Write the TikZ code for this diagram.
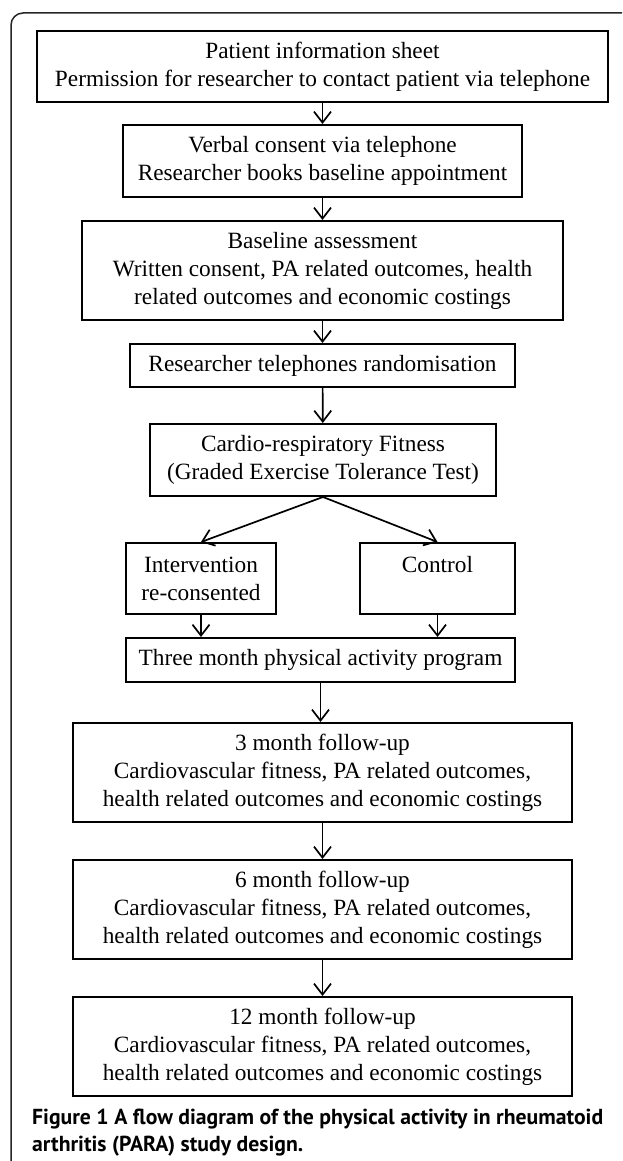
\documentclass[tikz,border=0pt]{standalone}
\usepackage{fontspec}
\setmainfont{Liberation Serif}
\newfontfamily\capfont{PT Sans}
\usetikzlibrary{arrows.meta}
\begin{document}
\begin{tikzpicture}[x=1pt,y=-1pt,
  box/.style={draw=black, line width=2pt, inner sep=0pt, align=center,
    font=\fontsize{23.3}{28}\selectfont},
  arr/.style={line width=1.7pt, -{Straight Barb[length=11pt,width=17pt,line width=1.7pt]}},
  frame/.style={draw=black!85, line width=1.5pt, rounded corners=12pt}]
\useasboundingbox (0,0) rectangle (622,1161);
\fill[white] (0,0) rectangle (622,1161);
\draw[frame] (622,13) -- (11,13) -- (11,1161);

\node[box, minimum width=571pt, minimum height=71pt] (b1) at (322.5,66.5)
  {Patient information sheet\\Permission for researcher to contact patient via telephone};
\node[box, minimum width=399pt, minimum height=72pt] (b2) at (322.5,161)
  {Verbal consent via telephone\\Researcher books baseline appointment};
\node[box, minimum width=481pt, minimum height=99pt] (b3) at (322.5,270.5)
  {Baseline assessment\\Written consent, PA related outcomes, health\\related outcomes and economic costings};
\node[box, minimum width=385pt, minimum height=43pt] (b4) at (322.5,365.5)
  {Researcher telephones randomisation};
\node[box, minimum width=346pt, minimum height=72pt] (b5) at (323,460)
  {Cardio-respiratory Fitness\\(Graded Exercise  Tolerance Test)};
\node[box, minimum width=150pt, minimum height=71pt] (int) at (201,578.5)
  {Intervention\\re-consented};
\node[box, minimum width=155pt, minimum height=71pt] (ctl) at (437.5,578.5)
  {Control\\\mbox{}};
\node[box, minimum width=389pt, minimum height=44pt] (b6) at (320.5,660)
  {Three month physical activity program};
\node[box, minimum width=499pt, minimum height=99pt] (f3) at (322.5,772.5)
  {3 month follow-up\\Cardiovascular fitness, PA related outcomes,\\health related outcomes and economic costings};
\node[box, minimum width=499pt, minimum height=99pt] (f6) at (322.5,909.5)
  {6 month follow-up\\Cardiovascular fitness, PA related outcomes,\\health related outcomes and economic costings};
\node[box, minimum width=499pt, minimum height=99pt] (f12) at (322.5,1046.5)
  {12 month follow-up\\Cardiovascular fitness, PA related outcomes,\\health related outcomes and economic costings};

\node[anchor=west, inner sep=0pt, align=left, font=\capfont\fontsize{21.7}{27}\selectfont\bfseries] (cap) at (32,1133)
  {Figure 1 A flow diagram of the physical activity in rheumatoid\\arthritis (PARA) study design.};

\draw[arr] (b1) -- (b2);
\draw[arr] (b2) -- (b3);
\draw[arr] (b3) -- (b4);
\draw[arr] (b4) -- (b5);
\draw[arr] (b5.south) -- (int.north);
\draw[arr] (b5.south) -- (ctl.north);
\draw[arr] (int.south) -- (int.south |- b6.north);
\draw[arr] (ctl.south) -- (ctl.south |- b6.north);
\draw[arr] (b6.south) -- (b6.south |- f3.north);
\draw[arr] (f3) -- (f6);
\draw[arr] (f6) -- (f12);
\end{tikzpicture}
\end{document}
